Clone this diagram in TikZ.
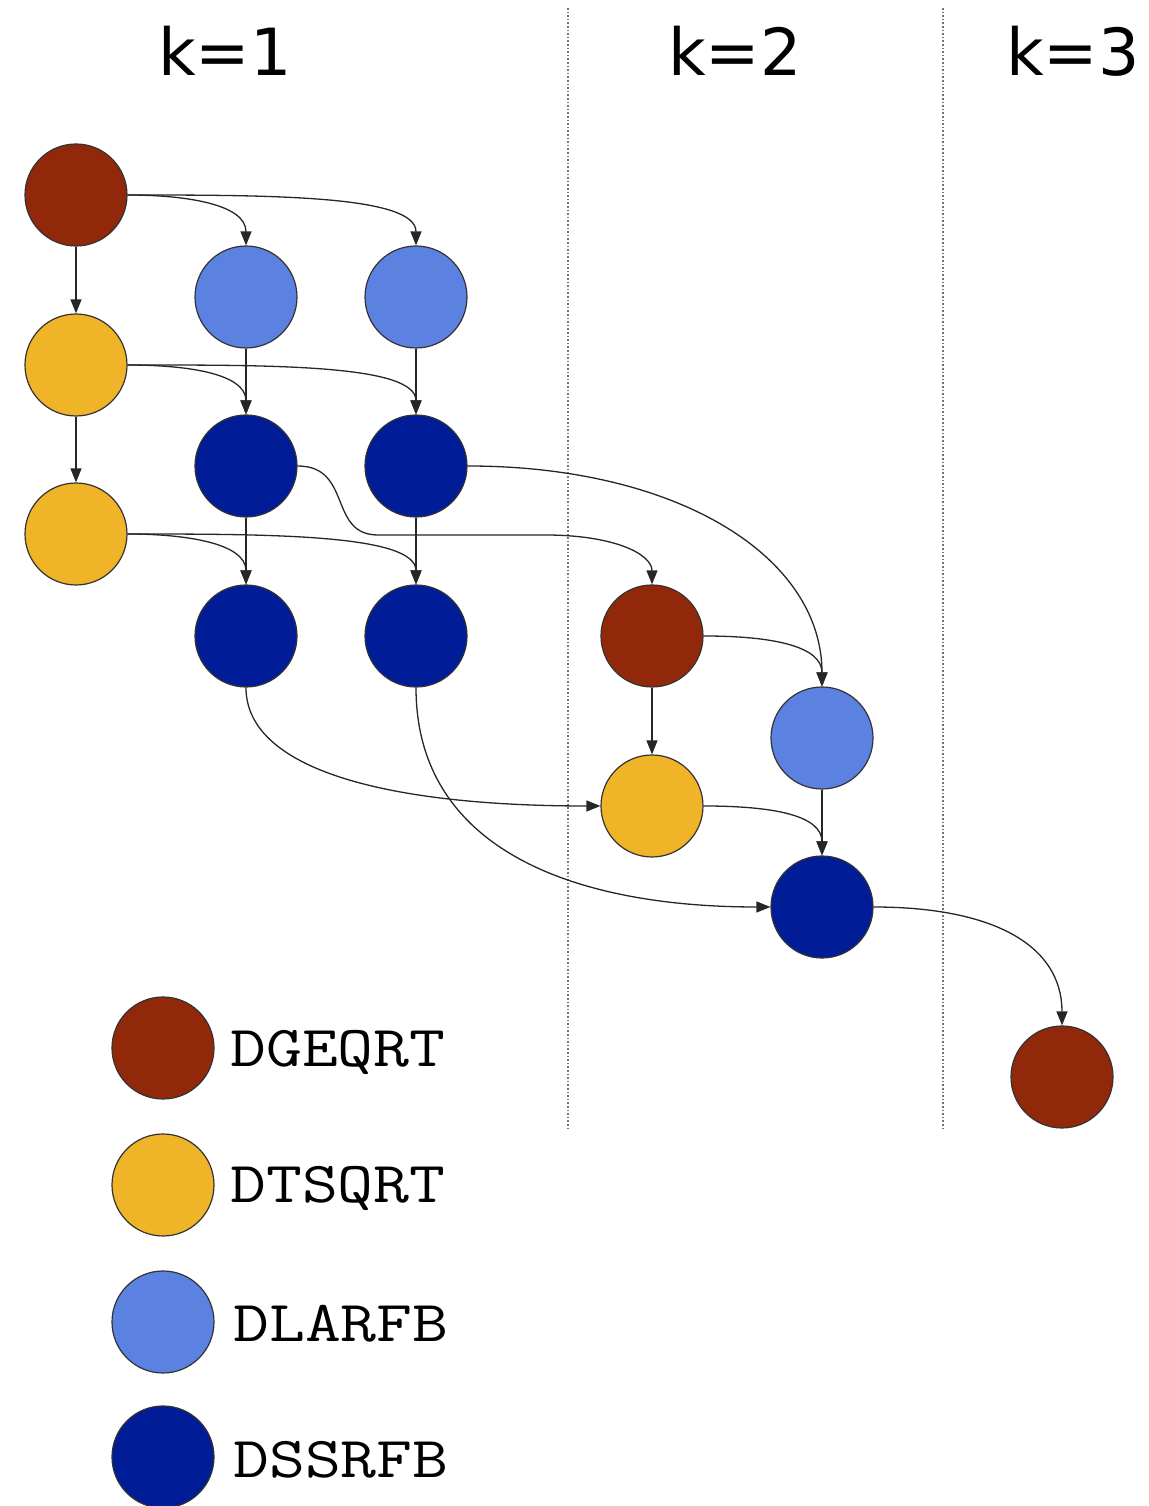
\documentclass[tikz,border=0pt]{standalone}
\usepackage{fontspec}
\newfontfamily\headfont{DejaVu Sans}
\usetikzlibrary{arrows.meta}
\definecolor{cqr}{RGB}{146,40,10}
\definecolor{cts}{RGB}{240,180,41}
\definecolor{clr}{RGB}{91,130,224}
\definecolor{css}{RGB}{0,28,150}
\newcommand\legword[1]{\scalebox{1.2}[1]{#1}}
\tikzset{
  task/.style={circle, draw=black!80, line width=0.6pt, minimum size=51pt, inner sep=0pt},
  tqr/.style={task, fill=cqr},
  tts/.style={task, fill=cts},
  tlr/.style={task, fill=clr},
  tss/.style={task, fill=css},
  conn/.style={draw=black!85, line width=0.65pt, -{Triangle[length=7pt,width=5.5pt]}},
  sep/.style={draw=black!55, line width=0.8pt, densely dotted},
  head/.style={font=\headfont\fontsize{32.5}{36}\selectfont, anchor=base, inner sep=0pt},
  legtext/.style={font=\ttfamily\fontsize{29}{34}\selectfont, anchor=base west, inner sep=0pt}
}
\begin{document}
\begin{tikzpicture}[x=0.5pt,y=0.5pt]
\useasboundingbox (0,0) rectangle (1149,1506);
% separators
\coordinate (s1t) at (568,1498); \coordinate (s1b) at (568,376);
\coordinate (s2t) at (943,1498); \coordinate (s2b) at (943,376);
\draw[sep] (s1t) -- (s1b);
\draw[sep] (s2t) -- (s2b);
% headings
\node[head] (h1) at (225,1430) {k=1};
\node[head] (h2) at (735,1430) {k=2};
\node[head] (h3) at (1073,1430) {k=3};
% tasks
\node[tqr] (A) at (76,1311) {};
\node[tlr] (L1) at (246,1209) {};
\node[tlr] (L2) at (416,1209) {};
\node[tts] (T1) at (76,1141) {};
\node[tss] (S11) at (246,1040) {};
\node[tss] (S12) at (416,1040) {};
\node[tts] (T2) at (76,972) {};
\node[tss] (S21) at (246,870) {};
\node[tss] (S22) at (416,870) {};
\node[tqr] (G2) at (652,870) {};
\node[tlr] (L3) at (822,768) {};
\node[tts] (T3) at (652,700) {};
\node[tss] (S3) at (822,599) {};
\node[tqr] (G3) at (1062,429) {};
% edges
\draw[conn] (A.south) -- (T1.north);
\draw[conn] (A.east) .. controls +(55,0) and +(0,42) .. (L1.north);
\draw[conn] (A.east) .. controls +(145,0) and +(0,50) .. (L2.north);
\draw[conn] (L1.south) -- (S11.north);
\draw[conn] (L2.south) -- (S12.north);
\draw[conn] (T1.east) .. controls +(55,0) and +(0,42) .. (S11.north);
\draw[conn] (T1.east) .. controls +(145,0) and +(0,50) .. (S12.north);
\draw[conn] (T1.south) -- (T2.north);
\draw[conn] (S11.south) -- (S21.north);
\draw[conn] (S12.south) -- (S22.north);
\draw[conn] (T2.east) .. controls +(55,0) and +(0,42) .. (S21.north);
\draw[conn] (T2.east) .. controls +(145,0) and +(0,50) .. (S22.north);
\coordinate (w1) at (378,971);
\coordinate (w2) at (545,971);
\draw[conn] (S11.east) .. controls +(55,0) and +(-50,0) .. (w1) -- (w2) .. controls +(70,0) and +(0,30) .. (G2.north);
\draw[conn] (S12.east) .. controls +(210,0) and +(0,130) .. (L3.north);
\draw[conn] (G2.east) .. controls +(70,0) and +(0,40) .. (L3.north);
\draw[conn] (G2.south) -- (T3.north);
\draw[conn] (L3.south) -- (S3.north);
\draw[conn] (T3.east) .. controls +(70,0) and +(0,40) .. (S3.north);
\draw[conn] (S21.south) .. controls +(0,-80) and +(-220,0) .. (T3.west);
\draw[conn] (S22.south) .. controls +(0,-160) and +(-200,0) .. (S3.west);
\draw[conn] (S3.east) .. controls +(120,0) and +(0,80) .. (G3.north);
% legend
\node[tqr] (kq) at (163,458) {};
\node[tts] (kt) at (163,321) {};
\node[tlr] (kl) at (163,184) {};
\node[tss] (ks) at (163,49) {};
\node[legtext] (kqt) at (230,439) {\legword{DGEQRT}};
\node[legtext] (ktt) at (230,303) {\legword{DTSQRT}};
\node[legtext] (klt) at (233,164) {\legword{DLARFB}};
\node[legtext] (kst) at (233,28) {\legword{DSSRFB}};
\end{tikzpicture}
\end{document}
